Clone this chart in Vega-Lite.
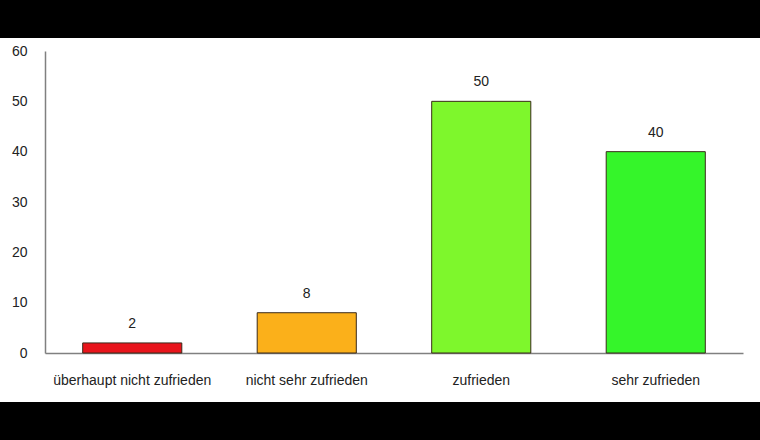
{
  "$schema": "https://vega.github.io/schema/vega-lite/v6.json",
  "width": 760,
  "height": 364,
  "autosize": {"type": "none"},
  "padding": {"top": 38, "bottom": 38, "left": 0, "right": 0},
  "background": "black",
  "view": {"fill": "white", "stroke": null},
  "config": {
    "font": "Liberation Sans",
    "axis": {"labelFont": "Liberation Sans", "labelFontSize": 14, "labelColor": "#222222"}
  },
  "data": {
    "values": [
      {"kategorie": "überhaupt nicht zufrieden", "wert": 2, "farbe": "#e8141b"},
      {"kategorie": "nicht sehr zufrieden", "wert": 8, "farbe": "#fbb01a"},
      {"kategorie": "zufrieden", "wert": 50, "farbe": "#7ef72c"},
      {"kategorie": "sehr zufrieden", "wert": 40, "farbe": "#35f52a"}
    ]
  },
  "encoding": {
    "x": {
      "field": "kategorie",
      "type": "nominal",
      "sort": null,
      "scale": {"range": [45, 743], "paddingInner": 0.432, "paddingOuter": 0.216},
      "axis": {
        "title": null,
        "orient": "bottom",
        "offset": -49,
        "labelAngle": 0,
        "ticks": false,
        "tickSize": 0,
        "labelPadding": 20,
        "domainColor": "#808080",
        "domainWidth": 1.5
      }
    },
    "y": {
      "field": "wert",
      "type": "quantitative",
      "scale": {"domain": [0, 60], "nice": false, "range": [315, 13]},
      "axis": {
        "title": null,
        "orient": "left",
        "offset": -45,
        "values": [0, 10, 20, 30, 40, 50, 60],
        "grid": false,
        "ticks": false,
        "tickSize": 0,
        "labelPadding": 18,
        "domainColor": "#808080",
        "domainWidth": 1.5
      }
    }
  },
  "layer": [
    {
      "mark": {"type": "bar", "stroke": "#3a2a1a", "strokeWidth": 1},
      "encoding": {
        "color": {"field": "farbe", "type": "nominal", "scale": null}
      }
    },
    {
      "mark": {"type": "text", "dy": -19, "fontSize": 14, "color": "#222222", "font": "Liberation Sans"},
      "encoding": {
        "text": {"field": "wert", "type": "quantitative"}
      }
    }
  ]
}
